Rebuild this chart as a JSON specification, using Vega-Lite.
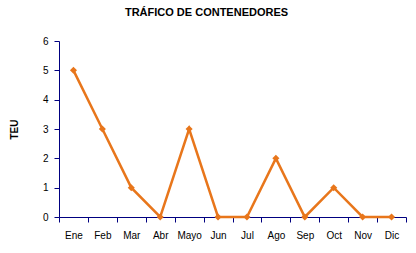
{
  "$schema": "https://vega.github.io/schema/vega-lite/v6.json",
  "autosize": "none",
  "width": 347,
  "height": 176,
  "padding": {"left": 59, "top": 41, "right": 10, "bottom": 36},
  "background": "white",
  "title": {
    "text": "TRÁFICO DE CONTENEDORES",
    "font": "Liberation Sans",
    "fontSize": 11,
    "fontWeight": "bold",
    "color": "#000000",
    "anchor": "middle",
    "dx": -26,
    "offset": 18
  },
  "data": {
    "values": [
      {"mes": "Ene", "teu": 5},
      {"mes": "Feb", "teu": 3},
      {"mes": "Mar", "teu": 1},
      {"mes": "Abr", "teu": 0},
      {"mes": "Mayo", "teu": 3},
      {"mes": "Jun", "teu": 0},
      {"mes": "Jul", "teu": 0},
      {"mes": "Ago", "teu": 2},
      {"mes": "Sep", "teu": 0},
      {"mes": "Oct", "teu": 1},
      {"mes": "Nov", "teu": 0},
      {"mes": "Dic", "teu": 0}
    ]
  },
  "encoding": {
    "x": {
      "field": "mes",
      "type": "nominal",
      "sort": null,
      "scale": {"type": "band", "paddingInner": 0, "paddingOuter": 0},
      "axis": {
        "title": null,
        "labelAngle": 0,
        "tickBand": "extent",
        "domainColor": "#000080",
        "tickColor": "#000080",
        "tickSize": 5,
        "labelPadding": 8,
        "labelFont": "Liberation Sans",
        "labelFontSize": 10,
        "labelColor": "#000000",
        "grid": false
      }
    },
    "y": {
      "field": "teu",
      "type": "quantitative",
      "scale": {"domain": [0, 6], "nice": false},
      "axis": {
        "title": "TEU",
        "titleFont": "Liberation Sans",
        "titleFontSize": 10,
        "titleFontWeight": "bold",
        "titleColor": "#000000",
        "titleX": -45,
        "titleY": 88,
        "titleBaseline": "middle",
        "titleAlign": "center",
        "values": [0, 1, 2, 3, 4, 5, 6],
        "labelOverlap": false,
        "labelBound": false,
        "domainColor": "#000080",
        "tickColor": "#000080",
        "tickSize": 5,
        "labelPadding": 6,
        "labelFont": "Liberation Sans",
        "labelFontSize": 10,
        "labelColor": "#000000",
        "grid": false
      }
    }
  },
  "layer": [
    {
      "mark": {"type": "line", "color": "#E8761B", "strokeWidth": 2.5}
    },
    {
      "mark": {"type": "point", "shape": "diamond", "filled": true, "color": "#E8761B", "size": 50, "opacity": 1}
    }
  ],
  "config": {"view": {"stroke": null}}
}
